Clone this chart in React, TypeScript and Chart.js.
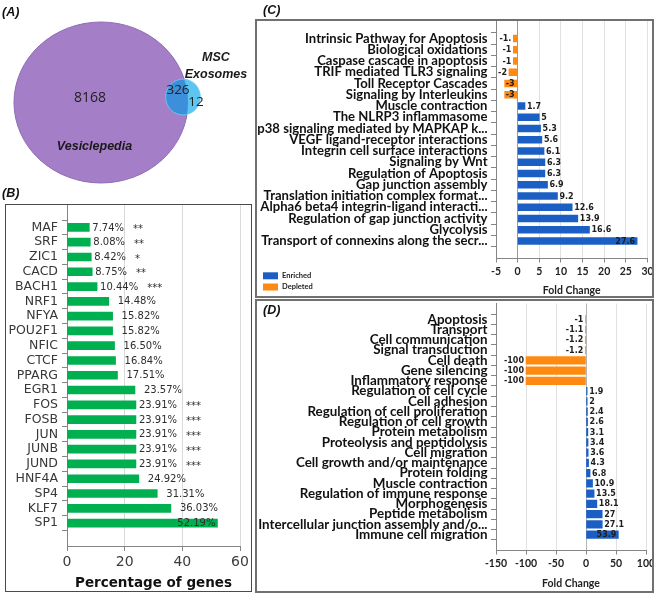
import React, { useEffect, useRef } from 'react';
import { Chart, registerables } from 'chart.js';

Chart.register(...registerables);

// ---------------- Panel A : Venn ----------------
const vennSetNames = ['Vesiclepedia', 'MSC Exosomes'];
const vennRegionCounts = [8168, 326, 12]; // Vesiclepedia only, shared, MSC Exosomes only

// ---------------- Panel B ----------------
const tfNames = ['MAF', 'SRF', 'ZIC1', 'CACD', 'BACH1', 'NRF1', 'NFYA', 'POU2F1', 'NFIC', 'CTCF', 'PPARG', 'EGR1', 'FOS', 'FOSB', 'JUN', 'JUNB', 'JUND', 'HNF4A', 'SP4', 'KLF7', 'SP1'];
const tfPercent = [7.74, 8.08, 8.42, 8.75, 10.44, 14.48, 15.82, 15.82, 16.5, 16.84, 17.51, 23.57, 23.91, 23.91, 23.91, 23.91, 23.91, 24.92, 31.31, 36.03, 52.19];
const tfSignificance = ['**', '**', '*', '**', '***', '', '', '', '', '', '', '', '***', '***', '***', '***', '***', '', '', '', ''];
const tfAxisTicks = [0, 20, 40, 60];
const tfAxisTitle = 'Percentage of genes';

// ---------------- Panel C ----------------
const pathwayNames = [
  'Intrinsic Pathway for Apoptosis',
  'Biological oxidations',
  'Caspase cascade in apoptosis',
  'TRIF mediated TLR3 signaling',
  'Toll Receptor Cascades',
  'Signaling by Interleukins',
  'Muscle contraction',
  'The NLRP3 inflammasome',
  'p38 signaling mediated by MAPKAP k...',
  'VEGF ligand-receptor interactions',
  'Integrin cell surface interactions',
  'Signaling by Wnt',
  'Regulation of Apoptosis',
  'Gap junction assembly',
  'Translation initiation complex format...',
  'Alpha6 beta4 integrin-ligand interacti...',
  'Regulation of gap junction activity',
  'Glycolysis',
  'Transport of connexins along the secr...',
];
const pathwayFold = [-1, -1, -1, -2, -3, -3, 1.7, 5, 5.3, 5.6, 6.1, 6.3, 6.3, 6.9, 9.2, 12.6, 13.9, 16.6, 27.6];
const pathwayValueText = ['-1.', '-1', '-1', '-2', '-3', '-3', '1.7', '5', '5.3', '5.6', '6.1', '6.3', '6.3', '6.9', '9.2', '12.6', '13.9', '16.6', '27.6'];
const pathwayAxisTicks = [-5, 0, 5, 10, 15, 20, 25, 30];
const seriesNames = ['Enriched', 'Depleted'];
const foldAxisTitle = 'Fold Change';

// ---------------- Panel D ----------------
const processNames = [
  'Apoptosis',
  'Transport',
  'Cell communication',
  'Signal transduction',
  'Cell death',
  'Gene silencing',
  'Inflammatory response',
  'Regulation of cell cycle',
  'Cell adhesion',
  'Regulation of cell proliferation',
  'Regulation of cell growth',
  'Protein metabolism',
  'Proteolysis and peptidolysis',
  'Cell migration',
  'Cell growth and/or maintenance',
  'Protein folding',
  'Muscle contraction',
  'Regulation of immune response',
  'Morphogenesis',
  'Peptide metabolism',
  'Intercellular junction assembly and/o...',
  'Immune cell migration',
];
const processFold = [-1, -1.1, -1.2, -1.2, -100, -100, -100, 1.9, 2, 2.4, 2.6, 3.1, 3.4, 3.6, 4.3, 6.8, 10.9, 13.5, 18.1, 27, 27.1, 53.9];
const processAxisTicks = [-150, -100, -50, 0, 50, 100];

// ---------------- styles ----------------
const GREEN = '#00B050';
const BLUE = '#1c5fc4';
const ORANGE = '#ff8a12';
const AXIS = '#858585';
const GRID = '#e1e1e1';

function makeBarLabels(o: any) {
  return {
    id: 'barLabels',
    afterDatasetsDraw(chart: any) {
      const ctx = chart.ctx;
      const area = chart.chartArea;
      ctx.save();
      ctx.textBaseline = 'middle';
      chart.data.datasets.forEach((ds: any, di: number) => {
        const meta = chart.getDatasetMeta(di);
        meta.data.forEach((el: any, j: number) => {
          const raw = ds.data[j];
          const i = raw.y;
          const v = raw.x;
          const text = o.texts[i];
          ctx.font = o.font;
          ctx.fillStyle = o.color;
          const w = ctx.measureText(text).width;
          const { x, y } = el.getProps(['x', 'y'], true);
          let tx: number;
          let align: CanvasTextAlign;
          if (i === o.insideIndex) {
            tx = x - o.insideGap;
            align = 'right';
          } else if (v >= 0) {
            tx = x + o.gapPos(i);
            align = 'left';
          } else {
            tx = x - o.gapNeg;
            align = 'right';
            if (tx - w < area.left + 1) {
              tx = x + 1;
              align = 'left';
            }
          }
          ctx.textAlign = align;
          ctx.fillText(text, tx, y + 0.5);
          if (o.extra && o.extra[i]) {
            const endX = align === 'left' ? tx + w : tx;
            ctx.font = o.extraFont;
            ctx.textAlign = 'left';
            ctx.fillText(o.extra[i], endX + o.extraGap, y + 2);
          }
        });
      });
      ctx.restore();
    },
  };
}

const zeroPad = (s: any) => {
  s.paddingLeft = 0;
  s.paddingRight = 0;
  s.paddingTop = 0;
  s.paddingBottom = 0;
};

function makeVenn(canvas: HTMLCanvasElement) {
  const layout = {
    big: { cx: 101, cy: 102.5, aspect: 0.925 },
    small: { cx: 183, cy: 97, aspect: 1.03 },
    areaScale: 0.944,
    bigText: { x: 90, y: 98 },
    sharedText: { x: 178, y: 90 },
    smallText: { x: 196, y: 102 },
    bigName: { x: 94.5, y: 147 },
    smallName: { x: 216, y: 58, dy: 17 },
  };
  const bigTotal = vennRegionCounts[0] + vennRegionCounts[1];
  const smallTotal = vennRegionCounts[1] + vennRegionCounts[2];
  const plugin = {
    id: 'venn',
    afterDatasetsDraw(chart: any) {
      const { ctx } = chart;
      const xs = chart.scales.x;
      const ys = chart.scales.y;
      const ux = Math.abs(xs.getPixelForValue(1) - xs.getPixelForValue(0));
      const uy = Math.abs(ys.getPixelForValue(1) - ys.getPixelForValue(0));
      const rb = layout.areaScale * Math.sqrt(bigTotal);
      const rs = layout.areaScale * Math.sqrt(smallTotal);
      const bx = xs.getPixelForValue(layout.big.cx), by = ys.getPixelForValue(layout.big.cy);
      const sx = xs.getPixelForValue(layout.small.cx), sy = ys.getPixelForValue(layout.small.cy);
      const bigPath = () => {
        ctx.beginPath();
        ctx.ellipse(bx, by, rb * ux, rb * uy * layout.big.aspect, 0, 0, Math.PI * 2);
      };
      const smallPath = () => {
        ctx.beginPath();
        ctx.ellipse(sx, sy, rs * ux, rs * uy * layout.small.aspect, 0, 0, Math.PI * 2);
      };
      ctx.save();
      bigPath();
      ctx.fillStyle = '#a57ec8';
      ctx.fill();
      ctx.strokeStyle = '#8f6bb5';
      ctx.lineWidth = 1;
      ctx.stroke();
      smallPath();
      ctx.fillStyle = '#5cc5f2';
      ctx.fill();
      ctx.save();
      bigPath();
      ctx.clip();
      smallPath();
      ctx.fillStyle = '#3e8fda';
      ctx.fill();
      ctx.restore();
      smallPath();
      ctx.strokeStyle = '#6fc9ef';
      ctx.lineWidth = 0.8;
      ctx.stroke();

      ctx.fillStyle = '#1e1e1e';
      ctx.textAlign = 'center';
      ctx.textBaseline = 'middle';
      ctx.font = '14px "Open Sans"';
      ctx.fillText(String(vennRegionCounts[0]), xs.getPixelForValue(layout.bigText.x), ys.getPixelForValue(layout.bigText.y));
      ctx.font = '13.5px "Open Sans"';
      ctx.fillText(String(vennRegionCounts[1]), xs.getPixelForValue(layout.sharedText.x), ys.getPixelForValue(layout.sharedText.y));
      ctx.fillText(String(vennRegionCounts[2]), xs.getPixelForValue(layout.smallText.x), ys.getPixelForValue(layout.smallText.y));
      ctx.font = 'italic bold 12.5px "Liberation Sans"';
      ctx.fillStyle = '#1a1a1a';
      ctx.fillText(vennSetNames[0], xs.getPixelForValue(layout.bigName.x), ys.getPixelForValue(layout.bigName.y));
      const parts = vennSetNames[1].split(' ');
      parts.forEach((p, k) => {
        ctx.fillText(p, xs.getPixelForValue(layout.smallName.x), ys.getPixelForValue(layout.smallName.y + k * layout.smallName.dy));
      });
      ctx.restore();
    },
  };
  return new Chart(canvas, {
    type: 'scatter',
    data: {
      datasets: [
        {
          data: [
            { x: layout.big.cx, y: layout.big.cy },
            { x: layout.small.cx, y: layout.small.cy },
          ],
          pointRadius: 0,
        },
      ],
    },
    options: {
      responsive: false,
      animation: false,
      events: [],
      layout: { padding: 0 },
      plugins: { legend: { display: false }, tooltip: { enabled: false } },
      scales: {
        x: { type: 'linear', min: 0, max: 256, display: false },
        y: { type: 'linear', min: 0, max: 204, reverse: true, display: false },
      },
    },
    plugins: [plugin],
  } as any);
}

function makeB(canvas: HTMLCanvasElement) {
  const labels = makeBarLabels({
    texts: tfPercent.map((v) => v.toFixed(2) + '%'),
    font: '10px "DejaVu Sans"',
    color: '#2e2e2e',
    gapPos: (i: number) => (tfSignificance[i] ? 3 : 9),
    gapNeg: 3,
    insideGap: 2,
    insideIndex: tfPercent.indexOf(Math.max(...tfPercent)),
    extra: tfSignificance,
    extraGap: 9,
    extraFont: '10px "DejaVu Sans"',
  });
  return new Chart(canvas, {
    type: 'bar',
    data: {
      datasets: [
        {
          label: tfAxisTitle,
          data: tfPercent.map((v, i) => ({ x: v, y: i })),
          backgroundColor: GREEN,
          barThickness: 8,
        },
      ],
    },
    options: {
      indexAxis: 'y',
      responsive: false,
      animation: false,
      events: [],
      layout: { padding: { top: 0.5, right: 12, left: 0, bottom: 0 } },
      plugins: { legend: { display: false }, tooltip: { enabled: false } },
      scales: {
        x: {
          type: 'linear',
          min: tfAxisTicks[0],
          max: tfAxisTicks[tfAxisTicks.length - 1],
          afterBuildTicks: (s: any) => {
            s.ticks = tfAxisTicks.map((v) => ({ value: v }));
          },
          ticks: { font: { family: 'DejaVu Sans', size: 14 }, color: '#3c3c3c', padding: 3 },
          grid: {
            color: (c: any) => (c.tick && c.tick.value === 0 ? 'rgba(0,0,0,0)' : '#d9d9d9'),
            tickLength: 5,
            tickColor: AXIS,
          },
          border: { color: AXIS },
          title: {
            display: true,
            text: tfAxisTitle,
            font: { family: 'DejaVu Sans', size: 13.5, weight: 'bold' },
            color: '#111',
            padding: { top: 0, bottom: 0 },
          },
          afterFit: (s: any) => {
            zeroPad(s);
            s.height = 46;
          },
        },
        y: {
          type: 'linear',
          reverse: true,
          min: -1,
          max: tfNames.length,
          afterBuildTicks: (s: any) => {
            s.ticks = tfNames.map((_, i) => ({ value: i }));
          },
          ticks: {
            autoSkip: false,
            callback: (v: any) => tfNames[v],
            font: { family: 'DejaVu Sans', size: 12.5 },
            color: '#383838',
            padding: 4,
          },
          grid: { drawOnChartArea: false, tickLength: 5, tickColor: AXIS },
          border: { color: AXIS },
          afterFit: (s: any) => {
            zeroPad(s);
            s.width = 62;
          },
        },
      },
    },
    plugins: [labels],
  } as any);
}

function foldChart(
  canvas: HTMLCanvasElement,
  names: string[],
  values: number[],
  valueText: string[],
  axisTicks: number[],
  cfg: any
) {
  const labels = makeBarLabels({
    texts: valueText,
    font: 'bold 8px "DejaVu Sans"',
    color: '#1e1e1e',
    gapPos: () => 2,
    gapNeg: 2,
    insideGap: 2,
    insideIndex: values.indexOf(Math.max(...values)),
  });
  const extraPlugins = cfg.legend ? [cfg.legend] : [];
  return new Chart(canvas, {
    type: 'bar',
    data: {
      datasets: [
        {
          label: seriesNames[0],
          data: values.flatMap((v, i) => (v > 0 ? [{ x: v, y: i }] : [])),
          backgroundColor: BLUE,
          barThickness: cfg.barThickness,
          grouped: false,
        },
        {
          label: seriesNames[1],
          data: values.flatMap((v, i) => (v < 0 ? [{ x: v, y: i }] : [])),
          backgroundColor: ORANGE,
          barThickness: cfg.barThickness,
          grouped: false,
        },
      ],
    },
    options: {
      indexAxis: 'y',
      responsive: false,
      animation: false,
      events: [],
      layout: { padding: cfg.padding },
      plugins: { legend: { display: false }, tooltip: { enabled: false } },
      scales: {
        x: {
          type: 'linear',
          min: axisTicks[0],
          max: axisTicks[axisTicks.length - 1],
          afterBuildTicks: (s: any) => {
            s.ticks = axisTicks.map((v) => ({ value: v }));
          },
          ticks: { font: { family: 'Lato', size: 10.5, weight: 'bold' }, color: '#222', padding: 3 },
          grid: {
            color: (c: any) => {
              const v = c.tick && c.tick.value;
              if (v === axisTicks[0]) return 'rgba(0,0,0,0)';
              if (v === 0) return cfg.zeroColor;
              return GRID;
            },
            tickLength: 4,
            tickColor: AXIS,
          },
          border: { color: AXIS },
          title: {
            display: true,
            text: foldAxisTitle,
            font: { family: 'Lato', size: 10.5, weight: 'bold' },
            color: '#222',
            padding: { top: 0, bottom: cfg.titleBottom },
          },
          afterFit: (s: any) => {
            zeroPad(s);
            s.height = cfg.xHeight;
          },
        },
        y: {
          type: 'linear',
          reverse: true,
          min: -1,
          max: names.length,
          afterBuildTicks: (s: any) => {
            s.ticks = names.map((_, i) => ({ value: i }));
          },
          ticks: {
            autoSkip: false,
            callback: (v: any) => names[v],
            font: { family: 'Lato', size: cfg.labelSize, weight: 'bold' },
            color: '#111',
            padding: 3.5,
          },
          grid: { drawOnChartArea: false, tickLength: 5, tickColor: AXIS },
          border: { color: AXIS },
          afterFit: (s: any) => {
            zeroPad(s);
            s.width = 240;
          },
        },
      },
    },
    plugins: [labels, ...extraPlugins],
  } as any);
}

const legendC = {
  id: 'legendC',
  afterDraw(chart: any) {
    const ctx = chart.ctx;
    ctx.save();
    ctx.textBaseline = 'middle';
    ctx.textAlign = 'left';
    ctx.font = 'bold 7.5px Lato';
    const rows = [255.8, 267];
    chart.data.datasets.forEach((ds: any, k: number) => {
      ctx.fillStyle = ds.backgroundColor;
      ctx.fillRect(7, rows[k] - 3.5, 15, 7);
      ctx.fillStyle = '#222';
      ctx.fillText(ds.label, 26, rows[k]);
    });
    ctx.restore();
  },
};

export default function App() {
  const vennRef = useRef<HTMLCanvasElement>(null);
  const bRef = useRef<HTMLCanvasElement>(null);
  const cRef = useRef<HTMLCanvasElement>(null);
  const dRef = useRef<HTMLCanvasElement>(null);

  useEffect(() => {
    const charts = [
      makeVenn(vennRef.current!),
      makeB(bRef.current!),
      foldChart(cRef.current!, pathwayNames, pathwayFold, pathwayValueText, pathwayAxisTicks, {
        barThickness: 7,
        padding: { top: 1, right: 6.5, left: 0, bottom: 0 },
        xHeight: 38.5,
        titleBottom: 0,
        labelSize: 13.1,
        zeroColor: '#9a9a9a',
        legend: legendC,
      }),
      foldChart(
        dRef.current!,
        processNames,
        processFold,
        processFold.map((v) => String(v)),
        processAxisTicks,
        {
          barThickness: 7.5,
          padding: { top: 3.5, right: 8, left: 0, bottom: 0 },
          xHeight: 41.5,
          titleBottom: 2,
          labelSize: 13.4,
          zeroColor: '#b5b5b5',
        }
      ),
    ];
    return () => charts.forEach((c) => c.destroy());
  }, []);

  const abs = (l: number, t: number, w: number, h: number): React.CSSProperties => ({
    position: 'absolute',
    left: l,
    top: t,
    width: w,
    height: h,
  });
  const letter: React.CSSProperties = {
    position: 'absolute',
    font: 'italic bold 12.5px "Liberation Sans"',
    color: '#111',
    lineHeight: '14px',
    whiteSpace: 'nowrap',
  };

  return (
    <div style={{ position: 'absolute', left: 0, top: 0, width: 658, height: 594, background: '#fff', overflow: 'hidden' }}>
      <canvas ref={vennRef} width={256} height={204} style={abs(0, 0, 256, 204)} />
      <canvas ref={bRef} width={247} height={388} style={abs(5, 204, 247, 388)} />
      <canvas ref={cRef} width={398} height={277} style={abs(256, 20, 398, 277)} />
      <canvas ref={dRef} width={398} height={292} style={abs(256, 300, 398, 292)} />
      <div style={{ ...abs(5, 204, 247, 388), boxSizing: 'border-box', border: '1px solid #4a4a4a' }} />
      <div style={{ ...abs(255, 19, 399, 279), boxSizing: 'border-box', border: '2px solid #707070' }} />
      <div style={{ ...abs(255, 299, 399, 294), boxSizing: 'border-box', border: '2px solid #707070' }} />
      <div style={{ ...letter, left: 2, top: 5 }}>(A)</div>
      <div style={{ ...letter, left: 2, top: 186 }}>(B)</div>
      <div style={{ ...letter, left: 263, top: 3 }}>(C)</div>
      <div style={{ ...letter, left: 263, top: 303 }}>(D)</div>
    </div>
  );
}
